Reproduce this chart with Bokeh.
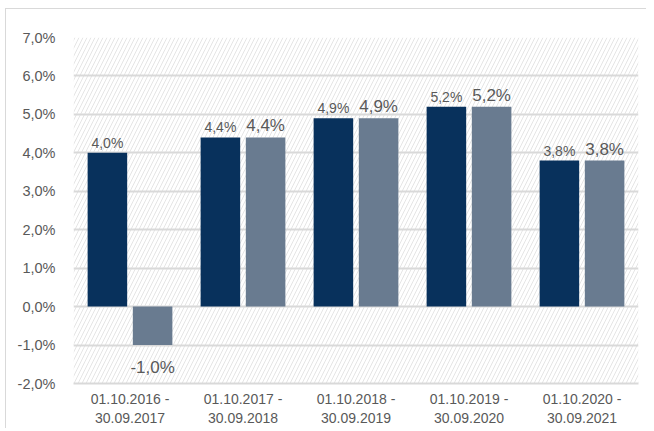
from bokeh.plotting import figure
from bokeh.models import ColumnDataSource, FactorRange, FixedTicker, BoxAnnotation, LabelSet
from bokeh.transform import dodge
from bokeh.core.properties import value
from bokeh.embed import file_html
from bokeh.resources import INLINE

categories = ["01.10.2016 -\n30.09.2017", "01.10.2017 -\n30.09.2018", "01.10.2018 -\n30.09.2019",
              "01.10.2019 -\n30.09.2020", "01.10.2020 -\n30.09.2021"]
series_a = [4.0, 4.4, 4.9, 5.2, 3.8]
series_b = [-1.0, 4.4, 4.9, 5.2, 3.8]
y_ticks = [-2, -1, 0, 1, 2, 3, 4, 5, 6, 7]

def fmt(v):
    return f"{v:.1f}".replace(".", ",") + "%"

DARK = "#08315c"
LIGHT = "#697b90"
TEXT = "#595959"
GRID = "#d9d9d9"
FONT = "Liberation Sans"

src = ColumnDataSource(dict(
    cat=categories, a=series_a, b=series_b,
    a_lab=[fmt(v) for v in series_a],
    b_pos_lab=[fmt(v) if v >= 0 else "" for v in series_b],
    b_neg_lab=[fmt(v) if v < 0 else "" for v in series_b],
))

p = figure(x_range=FactorRange(*categories, range_padding=0), y_range=(-2, 7),
           frame_width=565, frame_height=346,
           output_backend="svg", toolbar_location=None)
p.min_border_left = 67
p.min_border_right = 8
p.min_border_top = 28
p.min_border_bottom = 45
p.outline_line_color = None
p.background_fill_color = "white"
p.border_fill_color = "white"
p.styles = {"border-left": "1px solid #d9d9d9", "border-top": "1px solid #d9d9d9",
            "margin-left": "5px", "margin-top": "8px"}

hatch = BoxAnnotation(fill_alpha=0, line_color=None, hatch_pattern="/",
                      hatch_color="#dedede", hatch_weight=0.8, hatch_scale=8, level="image")
p.add_layout(hatch)

p.vbar(x=dodge("cat", -0.2, range=p.x_range), top="a", bottom=0, width=0.35,
       source=src, fill_color=DARK, line_color=None)
p.vbar(x=dodge("cat", 0.2, range=p.x_range), top="b", bottom=0, width=0.35,
       source=src, fill_color=LIGHT, line_color=None)

la = LabelSet(x=dodge("cat", -0.2, range=p.x_range), y="a", text="a_lab", source=src,
              text_align="center", text_baseline="alphabetic", y_offset=5,
              text_font=value(FONT), text_font_size="14px", text_color=TEXT)
lb = LabelSet(x=dodge("cat", 0.2, range=p.x_range), y="b", text="b_pos_lab", source=src,
              text_align="center", text_baseline="alphabetic", y_offset=6,
              text_font=value(FONT), text_font_size="17px", text_color=TEXT)
lc = LabelSet(x=dodge("cat", 0.2, range=p.x_range), y="b", text="b_neg_lab", source=src,
              text_align="center", text_baseline="alphabetic", y_offset=-28,
              text_font=value(FONT), text_font_size="17px", text_color=TEXT)
p.add_layout(la)
p.add_layout(lb)
p.add_layout(lc)

p.yaxis.ticker = FixedTicker(ticks=y_ticks)
p.yaxis.major_label_overrides = {t: fmt(t) for t in y_ticks}
p.yaxis.axis_line_color = None
p.yaxis.major_tick_line_color = None
p.yaxis.minor_tick_line_color = None
p.yaxis.major_label_standoff = 12
p.yaxis.major_label_text_font = FONT
p.yaxis.major_label_text_font_size = "14.5px"
p.yaxis.major_label_text_color = TEXT

p.xaxis.axis_line_color = GRID
p.xaxis.axis_line_width = 2
p.xaxis.major_tick_line_color = None
p.xaxis.minor_tick_line_color = None
p.xaxis.major_tick_out = 0
p.xaxis.major_label_standoff = 7
p.xaxis.major_label_text_font = FONT
p.xaxis.major_label_text_font_size = "14px"
p.xaxis.major_label_text_color = TEXT
p.xaxis.major_label_orientation = "horizontal"

p.xgrid.grid_line_color = None
p.ygrid.grid_line_color = GRID
p.ygrid.grid_line_width = 2

open("out.html", "w").write(file_html(p, INLINE))
